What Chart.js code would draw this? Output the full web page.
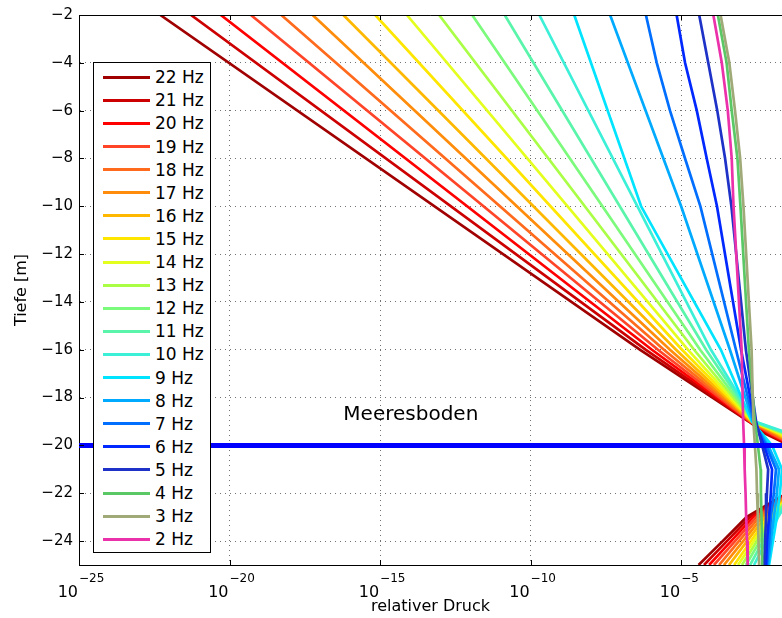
<!DOCTYPE html>
<html>
<head>
<meta charset="utf-8">
<script src="https://cdn.jsdelivr.net/npm/chart.js@4.4.0/dist/chart.umd.min.js"></script>
<style>
  body { margin:0; background:#fff; overflow:hidden; }
  #wrap { position:relative; width:782px; height:618px; }
  #legend { position:absolute; left:93px; top:62px; width:118px; height:491px; box-sizing:border-box;
            border:1px solid #000; background:#fff; font-family:"DejaVu Sans"; font-size:17px; color:#000; }
  .item { position:absolute; left:9px; height:23px; display:flex; align-items:center; white-space:nowrap; }
  .swatch { width:47px; height:3px; margin-right:5px; }
</style>
</head>
<body>
<div id="wrap">
  <canvas id="chart" width="782" height="618"></canvas>
  <div id="legend"></div>
</div>
<script>
const depths = [-2, -4, -6, -8, -10, -16, -19, -19.5, -20, -21, -22, -23, -24, -25];

// log10 des relativen Drucks je Frequenz (null = nicht abgelesen)
const p22 = [-22.30, null, null, null, null, -6.36, -2.75, -2.21, -1.40, -1.20, -1.50, -2.83, -3.62, -4.42];
const p21 = [-21.28, null, null, null, null, -6.17, -2.73, -2.15, -1.36, -1.17, -1.45, -2.71, -3.48, -4.24];
const p20 = [-20.29, null, null, null, null, -5.97, -2.71, -2.08, -1.32, -1.14, -1.42, -2.61, -3.34, -4.07];
const p19 = [-19.29, null, null, null, null, -5.77, -2.70, -2.02, -1.28, -1.11, -1.40, -2.51, -3.21, -3.91];
const p18 = [-18.28, null, null, null, null, -5.57, -2.68, -1.95, -1.24, -1.08, -1.38, -2.41, -3.08, -3.74];
const p17 = [-17.24, null, null, null, null, -5.37, -2.66, -1.88, -1.20, -1.05, -1.34, -2.31, -2.94, -3.58];
const p16 = [-16.22, null, null, null, null, -5.17, -2.65, -1.82, -1.16, -1.02, -1.32, -2.21, -2.81, -3.41];
const p15 = [-15.16, null, null, null, null, -4.97, -2.63, -1.75, -1.12, -0.99, -1.30, -2.12, -2.68, -3.24];
const p14 = [-14.11, null, null, null, null, -4.77, -2.61, -1.68, -1.08, -0.96, -1.30, -2.05, -2.58, -3.11];
const p13 = [-13.04, null, null, null, null, -4.57, -2.60, -1.62, -1.04, -0.93, -1.30, -1.98, -2.48, -2.98];
const p12 = [-11.94, null, null, null, null, -4.37, -2.58, -1.55, -1.00, -0.90, -1.30, -1.92, -2.38, -2.85];
const p11 = [-10.86, null, null, null, null, -4.17, -2.56, -1.48, -0.96, -0.87, -1.30, -1.85, -2.28, -2.71];
const p10 = [-9.71, null, null, null, null, -4.01, -2.55, -1.42, -0.92, -0.84, -1.30, -1.78, -2.18, -2.58];
const p9  = [-8.55, null, null, null, -6.33, -3.68, -2.65, null, -1.98, -1.65, -1.72, -1.82, -1.95, -2.08];
const p8  = [-7.36, null, null, null, -5.00, -3.38, -2.61, null, -2.11, -1.75, -1.82, -1.92, -2.02, -2.11];
const p7  = [-6.17, -5.81, -5.37, -4.87, -4.36, -3.18, -2.58, null, -2.18, -1.85, -1.92, -2.02, -2.08, -2.15];
const p6  = [-5.15, -4.87, -4.48, -4.15, -3.81, -3.01, -2.55, null, -2.25, -1.98, -2.02, -2.08, -2.15, -2.18];
const p5  = [-4.40, -4.10, -3.80, -3.54, -3.33, -2.85, -2.51, null, -2.31, -2.11, -2.15, -2.18, -2.21, -2.25];
const p4  = [-3.78, -3.49, -3.32, -3.13, -3.03, -2.75, -2.55, null, -2.45, -2.36, -2.35, -2.33, -2.31, -2.31];
const p3  = [-3.69, -3.40, -3.21, -3.04, -2.93, -2.66, -2.60, null, -2.55, -2.50, -2.48, -2.45, -2.43, -2.41];
const p2  = [-3.93, -3.65, -3.45, -3.32, -3.26, -2.99, -2.94, null, -2.91, -2.89, -2.86, -2.84, -2.81, -2.79];

const freqLabels = ['22 Hz','21 Hz','20 Hz','19 Hz','18 Hz','17 Hz','16 Hz','15 Hz','14 Hz','13 Hz','12 Hz',
                    '11 Hz','10 Hz','9 Hz','8 Hz','7 Hz','6 Hz','5 Hz','4 Hz','3 Hz','2 Hz'];
const colors = ['#a00000','#cc0000','#ff0000','#ff4428','#ff6a1c','#ff8c0a','#ffb800','#ffe600','#e4ff1e','#aaff46',
                '#7cfa7c','#5af5aa','#3cf0d8','#00e4ff','#00aaff','#006eff','#0028ff','#1e32c8','#5ac864','#a0aa78','#eb32aa'];
const series = [p22,p21,p20,p19,p18,p17,p16,p15,p14,p13,p12,p11,p10,p9,p8,p7,p6,p5,p4,p3,p2];

const seabedDepth = -20;
const xTickExps = [-25, -20, -15, -10, -5];
const yTicks = [-24, -22, -20, -18, -16, -14, -12, -10, -8, -6, -4, -2];
const xMin = 1e-25, xMax = Math.pow(10, -1.65);
const labelText = 'Meeresboden', labelExp = -16.22, labelDepth = -18.93;

const FONT = 'DejaVu Sans';

const datasets = series.map((vals, i) => ({
  label: freqLabels[i],
  data: depths.map((d, k) => vals[k] === null ? null : {x: Math.pow(10, vals[k]), y: d}).filter(Boolean),
  borderColor: colors[i],
  borderWidth: 2.7,
  pointRadius: 0,
  showLine: true,
  fill: false,
  order: series.length - i
}));
datasets.push({
  label: 'Meeresboden',
  data: [{x: xMin, y: seabedDepth}, {x: xMax, y: seabedDepth}],
  borderColor: '#0000ff',
  borderWidth: 5,
  pointRadius: 0,
  showLine: true,
  order: 0
});

// Rahmen, Teilstriche, x-Beschriftung und Text
const decor = {
  id: 'decor',
  afterDraw(chart) {
    const {ctx, chartArea: a, scales: {x, y}} = chart;
    ctx.save();
    ctx.strokeStyle = '#000';
    ctx.lineWidth = 1;
    ctx.beginPath();
    ctx.moveTo(a.left, a.top + 0.5); ctx.lineTo(a.right, a.top + 0.5);
    yTicks.forEach(v => {
      const py = Math.round(y.getPixelForValue(v)) + 0.5;
      ctx.moveTo(a.left, py); ctx.lineTo(a.left + 5, py);
    });
    xTickExps.forEach(e => {
      const px = Math.round(x.getPixelForValue(Math.pow(10, e))) + 0.5;
      ctx.moveTo(px, a.bottom); ctx.lineTo(px, a.bottom - 5);
      ctx.moveTo(px, a.top); ctx.lineTo(px, a.top + 5);
    });
    ctx.stroke();

    ctx.fillStyle = '#000';
    ctx.textBaseline = 'alphabetic';
    xTickExps.forEach(e => {
      const px = x.getPixelForValue(Math.pow(10, e));
      ctx.font = '16px "' + FONT + '"';
      ctx.textAlign = 'right';
      ctx.fillText('10', px - 1, 597);
      ctx.font = '12px "' + FONT + '"';
      ctx.textAlign = 'left';
      ctx.fillText('\u2212' + Math.abs(e), px, 582);
    });

    ctx.font = '20px "' + FONT + '"';
    ctx.textAlign = 'left';
    ctx.fillText(labelText, x.getPixelForValue(Math.pow(10, labelExp)), y.getPixelForValue(labelDepth));
    ctx.restore();
  }
};

new Chart(document.getElementById('chart'), {
  type: 'scatter',
  data: { datasets },
  options: {
    responsive: false,
    animation: false,
    events: [],
    layout: { padding: { top: 13.5, right: 0, bottom: 0, left: 0 } },
    plugins: { legend: { display: false }, tooltip: { enabled: false } },
    scales: {
      x: {
        type: 'logarithmic',
        min: xMin,
        max: xMax,
        afterBuildTicks: s => { s.ticks = xTickExps.map(e => ({ value: Math.pow(10, e) })); },
        afterFit: s => { s.height = 53; },
        ticks: { display: false },
        grid: { color: 'rgba(0,0,0,0.55)', drawTicks: false, lineWidth: 1 },
        border: { display: true, color: '#000', width: 1, dash: [1, 4] },
        title: { display: true, text: 'relativer Druck', color: '#000',
                 font: { family: FONT, size: 16 }, padding: { top: 0, bottom: 1.5 } }
      },
      y: {
        type: 'linear',
        min: -25,
        max: -2,
        afterBuildTicks: s => { s.ticks = yTicks.map(v => ({ value: v })); },
        afterFit: s => { s.width = 79; },
        ticks: { color: '#000', font: { family: FONT, size: 15 }, padding: 6,
                 callback: v => String(v).replace('-', '\u2212') },
        grid: { color: 'rgba(0,0,0,0.55)', drawTicks: false, lineWidth: 1 },
        border: { display: true, color: '#000', width: 1, dash: [1, 4] },
        title: { display: true, text: 'Tiefe [m]', color: '#000',
                 font: { family: FONT, size: 16 }, padding: { top: 12.4, bottom: 0 } }
      }
    }
  },
  plugins: [decor]
});

// Legende als HTML
const legend = document.getElementById('legend');
freqLabels.forEach((lab, i) => {
  const row = document.createElement('div');
  row.className = 'item';
  row.style.top = (2.7 + i * 23.1) + 'px';
  const sw = document.createElement('span');
  sw.className = 'swatch';
  sw.style.background = colors[i];
  const tx = document.createElement('span');
  tx.textContent = lab;
  row.appendChild(sw);
  row.appendChild(tx);
  legend.appendChild(row);
});
</script>
</body>
</html>
